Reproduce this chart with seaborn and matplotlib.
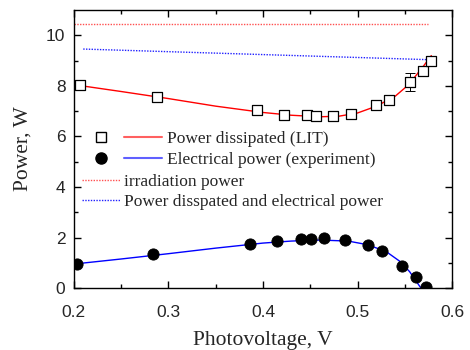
import numpy as np
import pandas as pd
import matplotlib
matplotlib.use("Agg")
import matplotlib.pyplot as plt
import seaborn as sns
from matplotlib.lines import Line2D
from matplotlib.legend_handler import HandlerTuple

# measured points (LIT power dissipated)
lit_v = [0.207, 0.2875, 0.394, 0.4225, 0.447, 0.4557, 0.474, 0.4935, 0.519, 0.533, 0.555, 0.569, 0.578]
lit_p = [8.02, 7.55, 7.03, 6.84, 6.84, 6.81, 6.80, 6.90, 7.23, 7.44, 8.16, 8.61, 9.00]
lit_err = [0.08, 0.05, 0.14, 0.05, 0.08, 0.05, 0.08, 0.08, 0.06, 0.05, 0.35, 0.12, 0.10]

# measured electrical power
el_v = [0.2035, 0.284, 0.3866, 0.4145, 0.44, 0.4508, 0.465, 0.4865, 0.5115, 0.526, 0.5474, 0.5616, 0.5725]
el_p = [0.97, 1.33, 1.76, 1.85, 1.94, 1.96, 1.97, 1.92, 1.69, 1.46, 0.89, 0.42, 0.03]

# fitted curves
fit_lit_v = [0.2, 0.25, 0.3, 0.35, 0.4, 0.43, 0.46, 0.48, 0.5, 0.52, 0.54, 0.55, 0.56, 0.57, 0.578]
fit_lit_p = [8.05, 7.78, 7.5, 7.2, 6.95, 6.84, 6.78, 6.8, 6.93, 7.2, 7.6, 7.92, 8.33, 8.8, 9.2]
fit_el_v = [0.2, 0.25, 0.3, 0.35, 0.4, 0.43, 0.46, 0.49, 0.51, 0.53, 0.545, 0.555, 0.567]
fit_el_p = [0.95, 1.15, 1.36, 1.58, 1.78, 1.86, 1.9, 1.86, 1.72, 1.45, 1.05, 0.65, 0.0]

irr_v = [0.2, 0.575]
irr_p = [10.45, 10.45]
sum_v = [0.21, 0.575]
sum_p = [9.46, 9.04]

sns.set_style("ticks")
plt.rcParams['font.family'] = ['Liberation Sans', 'DejaVu Sans']

fig = plt.figure(figsize=(4.7, 3.5), dpi=100)
ax = fig.add_axes([0.157, 0.177, 0.805, 0.794])

sns.lineplot(x=irr_v, y=irr_p, ax=ax, color='#ff5050', lw=1.0, linestyle=(0, (1, 1)), sort=False)
sns.lineplot(x=sum_v, y=sum_p, ax=ax, color='#2020ff', lw=1.0, linestyle=(0, (1, 1)), sort=False)
sns.lineplot(x=fit_lit_v, y=fit_lit_p, ax=ax, color='red', lw=1.0, sort=False)
sns.lineplot(x=fit_el_v, y=fit_el_p, ax=ax, color='blue', lw=1.0, sort=False)

ax.errorbar(lit_v, lit_p, yerr=lit_err, fmt='none', ecolor='black', elinewidth=0.7, capsize=3.5, capthick=0.7)
sns.scatterplot(x=lit_v, y=lit_p, ax=ax, marker='s', s=50, facecolor='white', edgecolor='black', linewidth=0.9, zorder=3)
sns.scatterplot(x=el_v, y=el_p, ax=ax, marker='o', s=65, color='black', edgecolor='black', zorder=3)

ax.set_xlim(0.2, 0.6)
ax.set_ylim(0, 11)
ax.set_xticks([0.2, 0.3, 0.4, 0.5, 0.6])
ax.set_xticks(np.arange(0.25, 0.6, 0.1), minor=True)
ax.set_yticks([0, 2, 4, 6, 8, 10])
ax.set_yticks([1, 3, 5, 7, 9], minor=True)
ax.tick_params(which='both', direction='in', top=True, right=True, labelsize=12.5, width=1.0, color='black')
ax.tick_params(which='major', length=5)
ax.tick_params(which='minor', length=3)
ax.tick_params(axis='x', which='major', pad=12)
ax.tick_params(axis='y', which='major', pad=6)
for sp in ax.spines.values():
    sp.set_linewidth(1.0)
    sp.set_color('black')

serif = ['Liberation Serif', 'DejaVu Serif']
ax.set_xlabel('Photovoltage, V', family=serif, fontsize=15.5, labelpad=8)
ax.set_ylabel('Power, W', family=serif, fontsize=15.5, labelpad=10)

sq = Line2D([], [], marker='s', ls='none', mfc='white', mec='black', ms=7)
dot = Line2D([], [], marker='o', ls='none', mfc='black', mec='black', ms=8)
rl = Line2D([], [], color='#ff6060', lw=1.5)
bl = Line2D([], [], color='#6060ff', lw=1.5)
leg1 = ax.legend([(sq, rl), (dot, bl)], ['Power dissipated (LIT)', 'Electrical power (experiment)'],
                 handler_map={tuple: HandlerTuple(ndivide=None, pad=0.23)},
                 loc='upper left', bbox_to_anchor=(0.021, 0.567), frameon=False,
                 borderpad=0, borderaxespad=0, handlelength=4.6, handletextpad=0.3, labelspacing=0.3,
                 prop={'family': serif, 'size': 12.5})
ax.add_artist(leg1)
r_dot = Line2D([], [], color='#ff5050', lw=1.0, ls=(0, (1, 1)))
b_dot = Line2D([], [], color='#2020ff', lw=1.0, ls=(0, (1, 1)))
ax.legend([r_dot, b_dot], ['irradiation power', 'Power disspated and electrical power'],
          loc='upper left', bbox_to_anchor=(0.021, 0.41), frameon=False,
          borderpad=0, borderaxespad=0, handlelength=2.2, handletextpad=0.25, labelspacing=0.22,
          prop={'family': serif, 'size': 12.5})

fig.savefig('out.png', dpi=100)
